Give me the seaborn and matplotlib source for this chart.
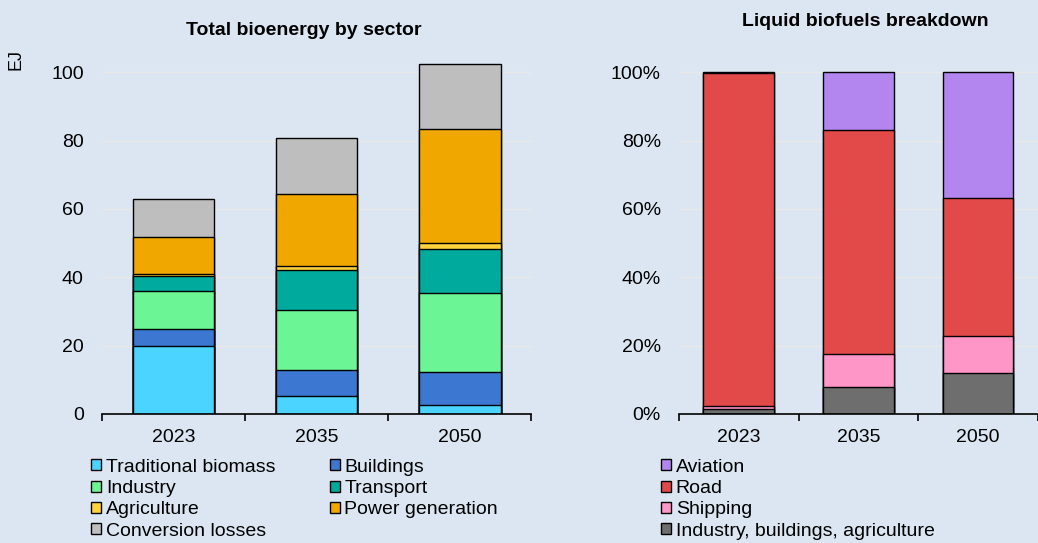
import numpy as np
import pandas as pd
import matplotlib.pyplot as plt
import seaborn as sns
from matplotlib.patches import Patch
from matplotlib.ticker import PercentFormatter

years = ["2023", "2035", "2050"]

# Total bioenergy by sector (EJ)
sectors = ["Traditional biomass", "Buildings", "Industry", "Transport",
           "Agriculture", "Power generation", "Conversion losses"]
traditional_biomass = [20.0, 5.3, 2.5]
buildings = [4.7, 7.5, 9.8]
industry = [11.2, 17.6, 23.2]
transport = [4.6, 11.8, 12.7]
agriculture = [0.5, 1.2, 1.9]
power_generation = [10.9, 20.9, 33.2]
conversion_losses = [10.9, 16.6, 19.3]

# Liquid biofuels breakdown (%)
fuels = ["Aviation", "Road", "Shipping", "Industry, buildings, agriculture"]
aviation = [0.2, 16.9, 36.7]
road = [97.5, 65.7, 40.4]
shipping = [0.8, 9.6, 10.9]
ind_bld_agr = [1.5, 7.8, 12.0]

sector_colors = ["#4AD4FF", "#3C78D2", "#6BF595", "#00AB9E",
                 "#FFD23C", "#F0A800", "#BEBEBE"]
fuel_colors = ["#B286EE", "#E24A4A", "#FF96C8", "#6E6E6E"]

bg = "#DCE6F2"
sns.set_theme(style="white")
plt.rcParams["font.family"] = ["Liberation Sans", "DejaVu Sans"]
plt.rcParams["text.color"] = "black"
plt.rcParams["xtick.color"] = "black"
plt.rcParams["ytick.color"] = "black"

fig = plt.figure(figsize=(10.38, 5.43), dpi=100, facecolor=bg)
ax1 = fig.add_axes([0.098, 0.238, 0.414, 0.66])
ax2 = fig.add_axes([0.654, 0.238, 0.346, 0.66])


def stacked(ax, cats, series, colors, width):
    df = pd.DataFrame(dict(zip(cats, series)), index=years)
    cum = df.cumsum(axis=1)
    # draw tallest cumulative first, so lower layers sit on top
    for name, col in reversed(list(zip(cats, colors))):
        sns.barplot(x=years, y=cum[name].values, color=col, width=width,
                    edgecolor="black", linewidth=1.0, saturation=1, ax=ax)


def style_axes(ax):
    ax.set_facecolor(bg)
    for s in ["top", "right", "left"]:
        ax.spines[s].set_visible(False)
    ax.spines["bottom"].set_color("black")
    ax.spines["bottom"].set_linewidth(1.2)
    ax.yaxis.grid(True, color="#E8E8E8", linewidth=1)
    ax.set_axisbelow(True)
    ax.set_xlim(-0.5, 2.5)
    ax.set_xticks([-0.5, 0.5, 1.5, 2.5], minor=True)
    ax.tick_params(axis="x", which="major", length=0, labelsize=14, pad=11)
    ax.tick_params(axis="x", which="minor", bottom=True, length=5, width=1.2,
                   color="black", direction="out")
    ax.tick_params(axis="y", length=0, labelsize=14, pad=13)
    ax.set_xlabel("")
    ax.set_ylabel("")


stacked(ax1, sectors, [traditional_biomass, buildings, industry, transport,
                       agriculture, power_generation, conversion_losses],
        sector_colors, 0.57)
style_axes(ax1)
ax1.set_ylim(0, 105)
ax1.set_yticks([0, 20, 40, 60, 80, 100])
ax1.set_title("Total bioenergy by sector", fontsize=14, fontweight="bold",
              pad=15, x=0.469)
fig.text(0.015, 0.89, "EJ", rotation=90, fontsize=13, va="center", ha="center")

stacked(ax2, fuels[::-1], [ind_bld_agr, shipping, road, aviation],
        fuel_colors[::-1], 0.59)
style_axes(ax2)
ax2.set_ylim(0, 105)
ax2.set_yticks([0, 20, 40, 60, 80, 100])
ax2.yaxis.set_major_formatter(PercentFormatter(decimals=0))
ax2.set_title("Liquid biofuels breakdown", fontsize=14, fontweight="bold",
              pad=21, x=0.518)

# legend filled column by column, so reorder to read row by row
order = [0, 2, 4, 6, 1, 3, 5]
h1 = [Patch(facecolor=sector_colors[i], edgecolor="black", label=sectors[i])
      for i in order]
fig.legend(handles=h1, ncol=2, loc="upper left", bbox_to_anchor=(0.088, 0.155),
           frameon=False, fontsize=14, handlelength=0.5, handleheight=0.5,
           handletextpad=0.25, labelspacing=0.22, columnspacing=2.8,
           borderpad=0, borderaxespad=0)

h2 = [Patch(facecolor=c, edgecolor="black", label=n)
      for n, c in zip(fuels, fuel_colors)]
fig.legend(handles=h2, ncol=1, loc="upper left", bbox_to_anchor=(0.637, 0.155),
           frameon=False, fontsize=14, handlelength=0.5, handleheight=0.5,
           handletextpad=0.25, labelspacing=0.22,
           borderpad=0, borderaxespad=0)

fig.savefig("out.png", dpi=100, facecolor=bg)
